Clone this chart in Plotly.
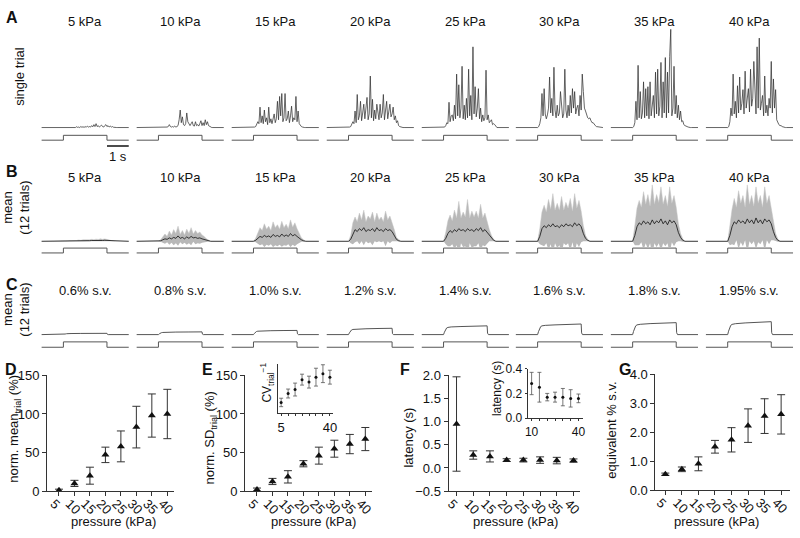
import plotly.graph_objects as go

W, H = 800, 538
FONT = "Liberation Sans, Arial, Helvetica, sans-serif"

# ---------------- data ----------------
pressure = [5, 10, 15, 20, 25, 30, 35, 40]
pressure_titles = ["5 kPa", "10 kPa", "15 kPa", "20 kPa", "25 kPa", "30 kPa", "35 kPa", "40 kPa"]
sv_titles = ["0.6% s.v.", "0.8% s.v.", "1.0% s.v.", "1.2% s.v.", "1.4% s.v.", "1.6% s.v.", "1.8% s.v.", "1.95% s.v."]

# stimulus (pressure step), time in s
stim_t = [0, 1.0, 1.0, 3.0, 3.0, 4.0]
stim_v = [0, 0, 1, 1, 0, 0]

# A: single-trial responses (a.u.), sampled every 0.05 s from 1.0 s to 3.7 s
t_single = [round(1.0 + 0.05 * k, 2) for k in range(55)]
single_5 = [0, 0, 0.3, 0, 0.5, 0, 0.3, 0, 0.5, 0.2,
            0.5, 0, 0.8, 0.2, 0.5, 0, 1, 0.3, 0.8, 0.2,
            1, 0.3, 1.5, 0.5, 1, 0.5, 2, 0.8, 3, 1,
            4, 1, 2, 0.5, 1.5, 2.5, 1, 0.5, 2, 3,
            1, 2, 0.5, 1.5, 0.5, 1, 0.3, 0, 0.3, 0,
            0, 0, 0, 0, 0]
single_10 = [0, 0, 0.3, 0, 0.3, 0, 0.5, 0.2, 0.5, 1,
             3, 1, 0.5, 1, 0.5, 1.5, 0.5, 1, 2, 8,
             18, 5, 11, 3, 2, 4, 15, 6, 3, 2,
             4, 6, 2, 1.5, 6, 2, 3, 1.5, 4, 7,
             2, 5, 2, 8, 3, 6, 2, 1, 0.5, 0,
             0, 0, 0, 0, 0]
single_15 = [0, 0.5, 1, 3, 6, 4, 21, 5, 12, 4,
             18, 6, 10, 3, 21, 5, 9, 4, 11, 14,
             5, 9, 27, 8, 32, 12, 35, 6, 10, 35,
             7, 9, 17, 5, 12, 22, 6, 10, 8, 32,
             6, 17, 4, 2, 1, 0.5, 0, 0, 0, 0,
             0, 0, 0, 0, 0]
single_20 = [0, 0.5, 1, 3, 6, 4, 17, 5, 34, 8,
             12, 27, 7, 15, 24, 9, 18, 31, 8, 14,
             53, 10, 29, 7, 18, 9, 24, 12, 8, 24,
             10, 15, 34, 8, 20, 27, 9, 16, 24, 11,
             14, 21, 8, 12, 5, 7, 2, 1, 0.5, 0,
             0, 0, 0, 0, 0]
single_25 = [0, 0.5, 2, 5, 4, 26, 6, 12, 13, 7,
             23, 9, 55, 12, 44, 10, 20, 63, 9, 23,
             8, 30, 10, 60, 12, 33, 8, 83, 14, 42,
             11, 20, 40, 9, 20, 6, 13, 7, 10, 59,
             8, 13, 5, 6, 8, 3, 4, 3, 1, 0,
             0, 0, 0, 0, 0]
single_30 = [0, 1, 4, 10, 35, 12, 40, 14, 9, 13,
             20, 52, 15, 30, 12, 62, 18, 10, 23, 12,
             15, 37, 20, 10, 14, 60, 18, 10, 23, 12,
             33, 15, 40, 20, 37, 14, 20, 23, 12, 33,
             18, 55, 37, 20, 17, 12, 10, 9, 10, 7,
             5, 5, 3, 2, 1]
single_35 = [0, 1, 5, 27, 8, 64, 10, 37, 9, 15,
             47, 10, 40, 12, 42, 9, 47, 12, 20, 33,
             10, 57, 14, 60, 12, 22, 67, 10, 47, 15,
             72, 10, 57, 15, 73, 101, 12, 20, 63, 14,
             33, 10, 23, 8, 17, 6, 7, 3, 2, 1,
             1, 0.5, 0, 0, 0]
single_40 = [0, 1, 6, 20, 12, 55, 14, 27, 10, 43,
             15, 52, 18, 25, 39, 14, 58, 20, 30, 40,
             16, 60, 22, 30, 68, 37, 14, 83, 20, 92,
             18, 25, 33, 12, 53, 15, 23, 12, 30, 20,
             68, 15, 50, 20, 39, 8, 5, 3, 2, 2,
             1, 0.5, 0, 0, 0]

# B: mean of 12 trials and SD (a.u.), sampled every 0.1 s from 1.0 s to 3.4 s
t_mean = [round(1.0 + 0.1 * k, 2) for k in range(25)]
mean_5 = [0, 0, 0.2, 0.3, 0.2, 0.4, 0.3, 0.5, 0.4, 0.6, 0.5, 0.7, 0.6, 0.8, 0.7, 0.9, 0.8, 1, 0.8, 1, 0.9, 0.6, 0.3, 0.1, 0]
sd_5 = [0, 0, 0.3, 0.5, 0.4, 0.6, 0.5, 0.8, 0.6, 0.9, 0.8, 1, 0.9, 1.2, 1, 1.3, 1.1, 1.5, 1.2, 1.4, 1.2, 0.8, 0.4, 0.2, 0]
mean_10 = [0, 0.5, 1.5, 2.5, 2, 3.5, 2.5, 4, 3, 5.5, 3, 4, 2.5, 4.5, 3, 5, 3.5, 4, 3, 3.5, 2.5, 2, 1, 0.5, 0]
sd_10 = [0, 1, 3, 5, 3, 7, 4, 8, 5, 10, 4, 7, 4, 8, 5, 9, 4, 7, 5, 6, 4, 3, 1.5, 0.5, 0]
mean_15 = [0, 1, 3, 5, 4, 6, 4.5, 5.5, 4, 7, 5, 6, 4.5, 7.5, 5, 6.5, 5, 8, 5.5, 7, 5, 3, 1.5, 0.5, 0]
sd_15 = [0, 2, 6, 9, 7, 12, 8, 10, 7, 13, 9, 11, 8, 13, 9, 11, 8, 14, 9, 12, 8, 5, 2, 1, 0]
mean_20 = [0, 2, 8, 12, 10, 13, 11, 14, 10, 12, 11, 13, 10, 14, 11, 12, 10, 13, 11, 12, 10, 6, 2, 0.5, 0]
sd_20 = [0, 4, 11, 13, 10, 16, 11, 18, 10, 14, 12, 17, 10, 15, 11, 13, 10, 18, 11, 14, 10, 6, 2, 1, 0]
mean_25 = [0, 3, 8, 11, 9, 12, 10, 13, 11, 12, 10, 13, 11, 12, 10, 13, 11, 14, 10, 12, 9, 6, 3, 1, 0]
sd_25 = [0, 6, 13, 16, 12, 20, 14, 28, 13, 18, 15, 30, 13, 19, 15, 18, 13, 24, 14, 17, 11, 6, 3, 1, 0]
mean_30 = [0, 5, 13, 16, 14, 17, 15, 18, 15, 16, 14, 17, 15, 18, 16, 17, 15, 19, 16, 18, 15, 8, 3, 1, 0]
sd_30 = [0, 8, 17, 21, 16, 26, 18, 31, 17, 23, 18, 29, 17, 22, 18, 27, 16, 30, 18, 24, 16, 8, 3, 1, 0]
mean_35 = [0, 6, 15, 19, 17, 21, 18, 20, 17, 22, 18, 21, 19, 23, 18, 21, 17, 22, 19, 21, 17, 9, 4, 1, 0]
sd_35 = [0, 10, 19, 23, 18, 30, 20, 28, 19, 36, 20, 27, 21, 33, 20, 26, 19, 34, 20, 26, 18, 9, 4, 1.5, 0]
mean_40 = [0, 6, 15, 20, 18, 22, 19, 21, 18, 23, 19, 22, 18, 24, 19, 22, 18, 23, 20, 22, 18, 10, 4, 1, 0]
sd_40 = [0, 10, 18, 24, 17, 30, 20, 26, 17, 35, 19, 25, 18, 32, 20, 25, 17, 33, 19, 25, 17, 9, 4, 1.5, 0]

# C: mean responses to current steps (% s.v.)
t_sv = [0, 1.0, 1.04, 1.08, 1.14, 1.2, 1.35, 1.8, 2.4, 3.0, 3.02, 3.06, 4.0]
sv_06 = [0, 0, 0.3, 0.6, 0.9, 1.0, 1.1, 1.2, 1.3, 1.3, 0.3, 0, 0]
sv_08 = [0, 0, 0.8, 1.5, 2.0, 2.2, 2.4, 2.6, 2.7, 2.8, 0.5, 0, 0]
sv_10 = [0, 0, 1.2, 2.4, 3.2, 3.5, 3.8, 4.0, 4.2, 4.3, 0.8, 0, 0]
sv_12 = [0, 0, 1.8, 3.5, 4.8, 5.3, 5.6, 6.0, 6.3, 6.5, 1.0, 0, 0]
sv_14 = [0, 0, 2.5, 5.0, 6.8, 7.4, 7.9, 8.3, 8.7, 9.0, 1.5, 0, 0]
sv_16 = [0, 0, 3.0, 6.0, 8.2, 9.0, 9.5, 10.0, 10.5, 10.9, 1.8, 0, 0]
sv_18 = [0, 0, 3.3, 6.6, 9.0, 10.0, 10.6, 11.3, 11.8, 12.3, 2.0, 0, 0]
sv_195 = [0, 0, 3.5, 7.0, 9.5, 10.5, 11.2, 12.0, 12.7, 13.3, 2.0, 0, 0]

# D-G summary statistics
mean_norm = [1, 10, 20, 47, 58, 83, 98, 100]
mean_norm_err = [1.5, 4, 11, 10, 20, 27, 28, 32]
sd_norm = [2, 12.5, 18.5, 35.5, 46, 55, 61, 67.5]
sd_norm_err = [2, 4, 8, 4, 11, 11, 12.5, 15]
inv_cv = [0.22, 0.40, 0.48, 0.68, 0.63, 0.73, 0.80, 0.73]
inv_cv_err = [0.085, 0.09, 0.13, 0.11, 0.12, 0.18, 0.18, 0.14]
latency = [0.95, 0.28, 0.25, 0.17, 0.17, 0.17, 0.16, 0.16]
latency_err = [1.02, 0.09, 0.12, 0.03, 0.04, 0.07, 0.07, 0.035]
equiv_sv = [0.55, 0.72, 0.91, 1.5, 1.74, 2.23, 2.56, 2.62]
equiv_sv_err = [0.04, 0.08, 0.24, 0.22, 0.42, 0.58, 0.6, 0.68]

single_all = [single_5, single_10, single_15, single_20, single_25, single_30, single_35, single_40]
mean_all = [mean_5, mean_10, mean_15, mean_20, mean_25, mean_30, mean_35, mean_40]
sd_all = [sd_5, sd_10, sd_15, sd_20, sd_25, sd_30, sd_35, sd_40]
sv_all = [sv_06, sv_08, sv_10, sv_12, sv_14, sv_16, sv_18, sv_195]

# ---------------- layout helpers ----------------
def xd(a, b):
    return [a / W, b / W]

def yd(top, bottom):
    return [1 - bottom / H, 1 - top / H]

def px(x):
    return x / W

def py(y):
    return 1 - y / H

def xn(n):
    return "x" if n == 1 else f"x{n}"

def yn(n):
    return "y" if n == 1 else f"y{n}"

def xk(n):
    return "xaxis" if n == 1 else f"xaxis{n}"

def yk(n):
    return "yaxis" if n == 1 else f"yaxis{n}"

col_x0 = [38, 134, 230, 326, 422, 517, 613, 709]
COLW = 88

fig = go.Figure()
layout = {}

for i, x0 in enumerate(col_x0):
    layout[xk(i + 1)] = dict(domain=xd(x0 - 1.1, x0 + COLW + 1.1), range=[-0.05, 4.05],
                            visible=False, anchor="y")

# y axes for trace rows: (top px, bottom px, range)
row_axes = {
    1: (18, 128, [-4, 106]),      # A response
    2: (130, 139, [-0.4, 1.4]),   # A stimulus
    3: (180, 247, [-6, 61]),      # B response
    4: (246, 255, [-0.4, 1.4]),   # B stimulus
    5: (315, 341, [-4, 22]),      # C response
    6: (342, 352, [-0.36, 1.45]), # C stimulus
}
for n, (top, bot, rng) in row_axes.items():
    layout[yk(n)] = dict(domain=yd(top, bot), range=rng, visible=False, anchor="x")

STIM_C = "#555555"
for i in range(8):
    xa = xn(i + 1)
    # A
    fig.add_trace(go.Scatter(x=[0] + t_single + [4.0], y=[0] + single_all[i] + [0],
                             xaxis=xa, yaxis=yn(1), mode="lines",
                             line=dict(color="#333333", width=0.75), hoverinfo="skip"))
    fig.add_trace(go.Scatter(x=stim_t, y=stim_v, xaxis=xa, yaxis=yn(2), mode="lines",
                             line=dict(color=STIM_C, width=1), hoverinfo="skip"))
    # B
    tb = [0] + t_mean + [4.0]
    mb = [0] + mean_all[i] + [0]
    sb = [0] + sd_all[i] + [0]
    lower = [m - s for m, s in zip(mb, sb)]
    upper = [m + s for m, s in zip(mb, sb)]
    fig.add_trace(go.Scatter(x=tb, y=lower, xaxis=xa, yaxis=yn(3), mode="lines",
                             line=dict(color="rgba(0,0,0,0)", width=0), hoverinfo="skip"))
    fig.add_trace(go.Scatter(x=tb, y=upper, xaxis=xa, yaxis=yn(3), mode="lines", fill="tonexty",
                             fillcolor="#b8b8b8", line=dict(color="#c4c4c4", width=0.5),
                             hoverinfo="skip"))
    fig.add_trace(go.Scatter(x=tb, y=mb, xaxis=xa, yaxis=yn(3), mode="lines",
                             line=dict(color="#111111", width=0.8), hoverinfo="skip"))
    fig.add_trace(go.Scatter(x=stim_t, y=stim_v, xaxis=xa, yaxis=yn(4), mode="lines",
                             line=dict(color=STIM_C, width=1), hoverinfo="skip"))
    # C
    fig.add_trace(go.Scatter(x=t_sv, y=sv_all[i], xaxis=xa, yaxis=yn(5), mode="lines",
                             line=dict(color="#555555", width=1), hoverinfo="skip"))
    fig.add_trace(go.Scatter(x=stim_t, y=stim_v, xaxis=xa, yaxis=yn(6), mode="lines",
                             line=dict(color=STIM_C, width=1), hoverinfo="skip"))

AX = dict(showline=True, linecolor="#333333", linewidth=1, ticks="outside", ticklen=4,
          tickcolor="#333333", tickwidth=1, showgrid=False, zeroline=False,
          tickfont=dict(size=13, color="#111111"))

# summary panels: n, x domain px, x range, y domain px (top,bottom), y range, y ticks
panels = [
    (9, (43.5, 172), [1.15, 42.25], (379, 498), [0, 150], dict(tickvals=[0, 50, 100, 150])),
    (10, (243.5, 372), [1.15, 42.25], (379, 498), [0, 150], dict(tickvals=[0, 50, 100, 150])),
    (11, (449, 582), [2.6, 42], (379, 498), [-0.5, 2.0],
     dict(tickvals=[-0.5, 0, 0.5, 1.0, 1.5, 2.0], tickformat=".1f")),
    (12, (658, 794), [2.0, 42.7], (378, 497), [0, 4],
     dict(tickvals=[0, 1, 2, 3, 4], tickformat=".1f")),
]
for n, xdom, xr, ydom, yr, yt in panels:
    layout[xk(n)] = dict(AX, domain=xd(*xdom), range=xr, anchor=yn(n), tickvals=pressure,
                         tickangle=45, ticklabelshift=-5, ticklabelstandoff=-5)
    layout[yk(n)] = dict(AX, domain=yd(*ydom), range=yr, anchor=xn(n), **yt)

# insets
layout[xk(13)] = dict(AX, domain=xd(277, 332), range=[2.9, 42], anchor=yn(13), tickvals=[5, 40],
                      tickangle=0, ticklen=2,
                      minor=dict(tickvals=pressure, ticks="outside", ticklen=2, tickcolor="#333333"))
layout[yk(13)] = dict(AX, domain=yd(367, 418), range=[0, 1], anchor=xn(13), ticks="",
                      showticklabels=False)
layout[xk(14)] = dict(AX, domain=xd(529, 585), range=[7.5, 43], anchor=yn(14), tickvals=[10, 40],
                      tickangle=0, ticklen=2, tickfont=dict(size=12, color="#111111"),
                      minor=dict(tickvals=pressure[1:], ticks="outside", ticklen=2, tickcolor="#333333"))
layout[yk(14)] = dict(AX, domain=yd(372, 423), range=[0, 0.4], anchor=xn(14), tickvals=[0, 0.2, 0.4],
                      tickformat=".1f", ticklen=2, tickfont=dict(size=12, color="#111111"))

def summary(n, y, err, size=7, symbol="triangle-up", ecol="#333333", thick=1, capw=4):
    fig.add_trace(go.Scatter(x=pressure[-len(y):], y=y, xaxis=xn(n), yaxis=yn(n), mode="markers",
                             marker=dict(symbol=symbol, size=size, color="#111111"),
                             error_y=dict(type="data", array=err, color=ecol, thickness=thick, width=capw),
                             hoverinfo="skip"))

summary(9, mean_norm, mean_norm_err)
summary(10, sd_norm, sd_norm_err)
summary(11, latency, latency_err)
summary(12, equiv_sv, equiv_sv_err)
summary(13, inv_cv, inv_cv_err, size=3, symbol="circle", ecol="#555555", thick=0.8, capw=2)
summary(14, latency[1:], latency_err[1:], size=3, symbol="circle", ecol="#555555", thick=0.8, capw=2)

# ---------------- annotations ----------------
ann = []

def text(x, y, s, size=13, angle=0, bold=False, xref="paper"):
    ann.append(dict(x=x, y=y, xref=xref, yref="paper", text=("<b>%s</b>" % s) if bold else s,
                    showarrow=False, xanchor="center", yanchor="middle", textangle=angle,
                    font=dict(size=size, family=FONT, color="#111111")))

for i, x0 in enumerate(col_x0):
    text(px(x0 + COLW / 2), py(15), pressure_titles[i])
    text(px(x0 + COLW / 2), py(175), pressure_titles[i])
    text(px(x0 + COLW / 2), py(292), sv_titles[i])

for s, x, y in [("A", 8, 11), ("B", 8, 169), ("C", 8, 285), ("D", 7, 373), ("E", 206, 373),
                ("F", 405, 373), ("G", 627, 373)]:
    text(px(x), py(y), s, size=16, bold=True)

text(px(15), py(71), "single trial", angle=-90)
text(px(12.5), py(206), "mean<br>(12 trials)", angle=-90)
text(px(12.5), py(311), "mean<br>(12 trials)", angle=-90)
text(px(11), py(434), "norm. mean<sub>trial</sub> (%)", angle=-90)
text(px(209), py(443), "norm. SD<sub>trial</sub> (%)", angle=-90)
text(px(409), py(443), "latency (s)", angle=-90)
text(px(614), py(435), "equivalent % s.v.", angle=-90)
text(px(266), py(386), "CV<sub>trial</sub><sup>−1</sup>", angle=-90, size=12)
text(px(498), py(393), "latency (s)", angle=-90, size=12)
for xc in [111, 313, 517, 720]:
    text(px(xc), py(529), "pressure (kPa)")

# 1 s scale bar under the first column
text(3.5, py(154), "1 s", xref="x")
shapes = [dict(type="line", xref="x", yref="paper", x0=3.0, x1=4.0, y0=py(143), y1=py(143),
               line=dict(color="#111111", width=1.5))]

fig.update_layout(
    width=W, height=H, autosize=False,
    margin=dict(l=0, r=0, t=0, b=0, pad=0),
    paper_bgcolor="white", plot_bgcolor="rgba(0,0,0,0)",
    showlegend=False,
    font=dict(family=FONT, size=13, color="#111111"),
    annotations=ann, shapes=shapes,
    **layout,
)

fig.write_html("out.html", include_plotlyjs=True, full_html=True,
               config={"displayModeBar": False},
               post_script="document.body.style.margin='0px';document.body.style.padding='0px';"
                           "document.body.style.overflow='hidden';")
